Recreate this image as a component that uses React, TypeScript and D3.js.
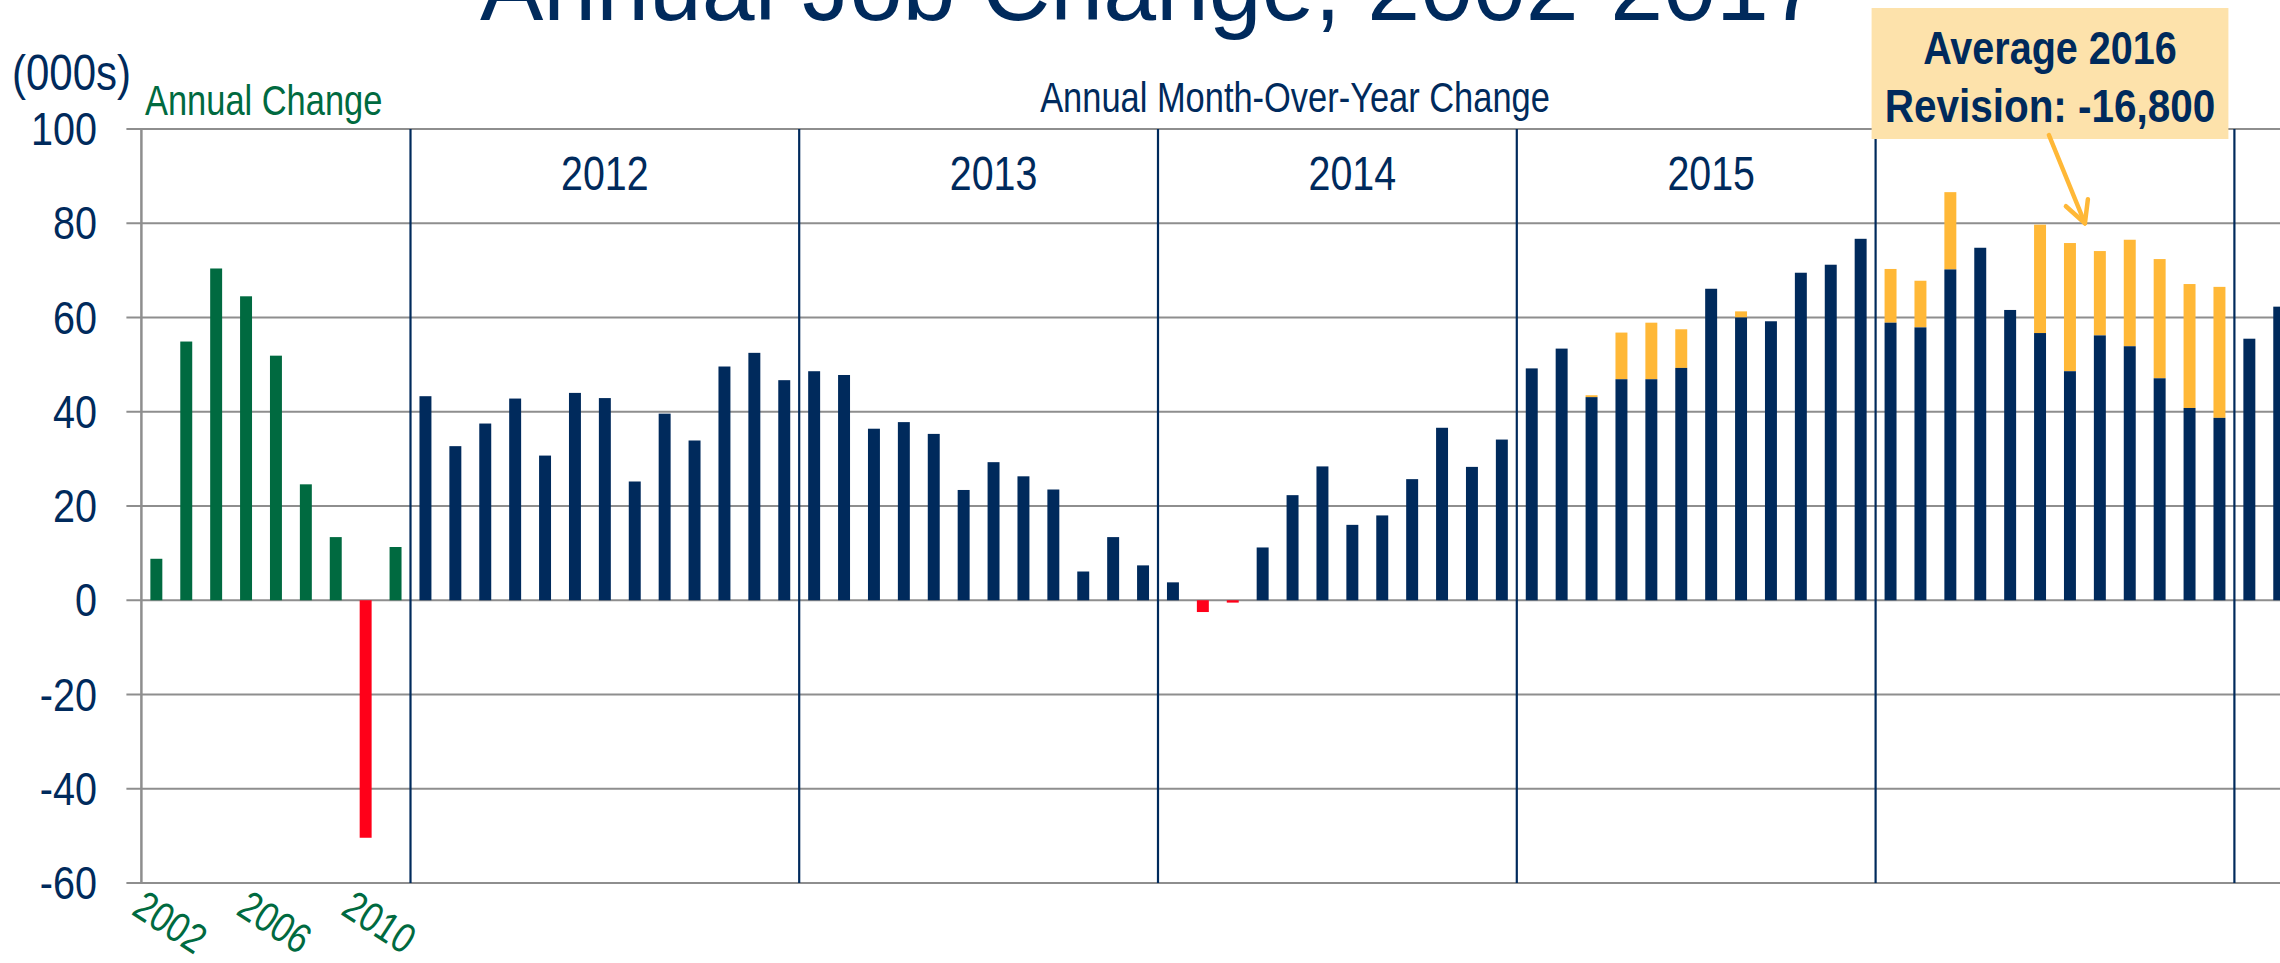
import React from 'react';
import * as d3 from 'd3';

// ---------- DATA ----------
const annualYears = ['2002', '2003', '2004', '2005', '2006', '2007', '2008', '2009', '2010'];
const annualChange = [8.8, 54.9, 70.4, 64.5, 51.9, 24.6, 13.4, -50.4, 11.3];
const annualTickYears = [2002, 2006, 2010];

const groupYears = ['2012', '2013', '2014', '2015', '2016', '2017'];
const groupLabels = ['2012', '2013', '2014', '2015'];
// month-over-year change (revised), thousands
const moy2012 = [43.3, 32.7, 37.5, 42.8, 30.7, 44.0, 42.9, 25.2, 39.6, 33.9, 49.6, 52.5, 46.7];
const moy2013 = [48.6, 47.8, 36.4, 37.8, 35.3, 23.4, 29.3, 26.3, 23.5, 6.1, 13.4, 7.4];
const moy2014 = [3.8, -2.5, -0.5, 11.2, 22.3, 28.4, 16.0, 18.0, 25.7, 36.6, 28.3, 34.1];
const moy2015 = [49.2, 53.4, 43.1, 46.9, 46.9, 49.3, 66.1, 60.0, 59.2, 69.5, 71.2, 76.7];
const moy2016 = [58.9, 57.9, 70.2, 74.8, 61.6, 56.7, 48.6, 56.2, 53.9, 47.1, 40.8, 38.7];
const moy2017 = [55.5, 62.3];
// pre-revision estimates (top of orange segment), null = no revision shown
const pre2015 = [null, null, 43.5, 56.8, 58.9, 57.5, null, 61.3, null, null, null, null];
const pre2016 = [70.3, 67.8, 86.6, null, null, 79.7, 75.8, 74.1, 76.5, 72.4, 67.1, 66.5];

const groupValues = [moy2012, moy2013, moy2014, moy2015, moy2016, moy2017];
const groupPrelim: (number | null)[][] = [[], [], [], pre2015, pre2016, []];

const yTicks = [-60, -40, -20, 0, 20, 40, 60, 80, 100];

// ---------- STYLE ----------
const NAVY = '#002A5C';
const GREEN = '#006A40';
const RED = '#FF0019';
const ORANGE = '#FFB837';
const BOX = '#FDE2AB';
const GRID = '#8E8E8E';
const SANS = "'Liberation Sans', Arial, sans-serif";

type Bar = { key: string; value: number; prelim: number | null; annual: boolean; group: number };

// condensed text (Arial Narrow look) by horizontal scaling
function NText(props: {
  x: number;
  y: number;
  sx?: number;
  rotate?: number;
  size: number;
  fill: string;
  anchor?: 'start' | 'middle' | 'end';
  weight?: string;
  dy?: string | number;
  children: React.ReactNode;
}) {
  const { x, y, sx = 0.82, rotate = 0, size, fill, anchor = 'start', weight = 'normal', dy, children } = props;
  return (
    <text
      transform={`translate(${x},${y}) rotate(${rotate}) scale(${sx},1)`}
      textAnchor={anchor}
      fontFamily={SANS}
      fontSize={size}
      fontWeight={weight}
      fill={fill}
      dy={dy}
    >
      {children}
    </text>
  );
}

export default function App() {
  const W = 2280;
  const H = 963;

  const bars: Bar[] = [];
  annualYears.forEach((yr, i) =>
    bars.push({ key: 'A' + yr, value: annualChange[i], prelim: null, annual: true, group: -1 })
  );
  groupYears.forEach((yr, g) =>
    groupValues[g].forEach((v, i) =>
      bars.push({ key: yr + '-' + i, value: v, prelim: groupPrelim[g][i] ?? null, annual: false, group: g })
    )
  );

  const step = 29.9;
  const x0 = 141.4;
  const x = d3
    .scaleBand<string>()
    .domain(bars.map((b) => b.key))
    .range([x0, x0 + bars.length * step])
    .paddingInner(0.6)
    .paddingOuter(0.3);
  const bw = x.bandwidth();
  const st = x.step();
  const cx = (k: string) => (x(k) as number) + bw / 2;

  const y = d3.scaleLinear().domain([-60, 100]).range([883, 129]);

  // secondary (annual) category axis labels
  const xYear = d3
    .scaleLinear()
    .domain([+annualYears[0], +annualYears[annualYears.length - 1]])
    .range([cx('A' + annualYears[0]) + 14, cx('A' + annualYears[annualYears.length - 1]) - 16]);

  const dividers = groupYears.map((yr) => cx(yr + '-0') - st / 2);

  const boxL = dividers[4] - 4;
  const boxR = dividers[5] - 6;
  const boxCx = (boxL + boxR) / 2;
  const tipX = (cx('2016-6') + cx('2016-7')) / 2;
  const tipY = y(80);

  return (
    <svg
      width={W}
      height={H}
      style={{ position: 'absolute', left: 0, top: 0, background: '#fff', display: 'block' }}
    >
      <rect x={0} y={0} width={W} height={H} fill="#fff" />
      {/* title (cropped at top) */}
      <text x={480} y={20} fontFamily={SANS} fontSize={95} fill={NAVY}>
        Annual Job Change, 2002-2017
      </text>

      {/* gridlines */}
      {yTicks.map((t) => (
        <line key={t} x1={x0 - 15} x2={W} y1={y(t)} y2={y(t)} stroke={GRID} strokeWidth={2.2} />
      ))}
      {/* left axis */}
      <line x1={x0} x2={x0} y1={y(100)} y2={y(-60)} stroke={GRID} strokeWidth={2.5} />

      {/* y tick labels */}
      {yTicks.map((t) => (
        <NText key={'l' + t} x={97} y={y(t) + 16} sx={0.86} anchor="end" size={46} fill={NAVY}>
          {t}
        </NText>
      ))}
      <NText x={12} y={90} sx={0.84} size={50} fill={NAVY}>
        (000s)
      </NText>
      <NText x={145} y={115} size={42} fill={GREEN}>
        Annual Change
      </NText>
      <NText x={1295} y={112} anchor="middle" size={42} fill={NAVY}>
        Annual Month-Over-Year Change
      </NText>

      {/* bars */}
      {bars.map((b) => {
        const fill = b.value < 0 ? RED : b.annual ? GREEN : NAVY;
        return (
          <g key={b.key}>
            {b.prelim !== null && b.prelim > b.value && (
              <rect x={x(b.key)} y={y(b.prelim)} width={bw} height={y(b.value) - y(b.prelim)} fill={ORANGE} />
            )}
            <rect
              x={x(b.key)}
              y={y(Math.max(0, b.value))}
              width={bw}
              height={Math.abs(y(b.value) - y(0))}
              fill={fill}
            />
          </g>
        );
      })}

      {/* year dividers */}
      {dividers.map((dx, i) => (
        <line key={'d' + i} x1={dx} x2={dx} y1={y(100)} y2={y(-60)} stroke={NAVY} strokeWidth={2.2} />
      ))}

      {/* year group labels */}
      {groupLabels.map((yr) => (
        <NText key={'g' + yr} x={cx(yr + '-6')} y={190} anchor="middle" size={48} fill={NAVY}>
          {yr}
        </NText>
      ))}

      {/* annual x labels */}
      {annualTickYears.map((yr) => (
        <NText
          key={'t' + yr}
          x={xYear(yr)}
          y={922}
          rotate={33}
          anchor="middle"
          dy="0.35em"
          size={42}
          fill={GREEN}
        >
          {String(yr)}
        </NText>
      ))}

      {/* annotation */}
      <rect x={boxL} y={8} width={boxR - boxL} height={y(100) + 10 - 8} fill={BOX} />
      <NText x={boxCx} y={64} sx={0.86} anchor="middle" weight="bold" size={46} fill={NAVY}>
        Average 2016
      </NText>
      <NText x={boxCx} y={122} sx={0.88} anchor="middle" weight="bold" size={46} fill={NAVY}>
        Revision: -16,800
      </NText>
      <g stroke={ORANGE} strokeWidth={4.5} strokeLinecap="round" fill="none">
        <line x1={tipX - 36} y1={135} x2={tipX} y2={tipY} />
        <line x1={tipX - 19} y1={tipY - 17} x2={tipX} y2={tipY} />
        <line x1={tipX + 3} y1={tipY - 24} x2={tipX} y2={tipY} />
      </g>
    </svg>
  );
}
